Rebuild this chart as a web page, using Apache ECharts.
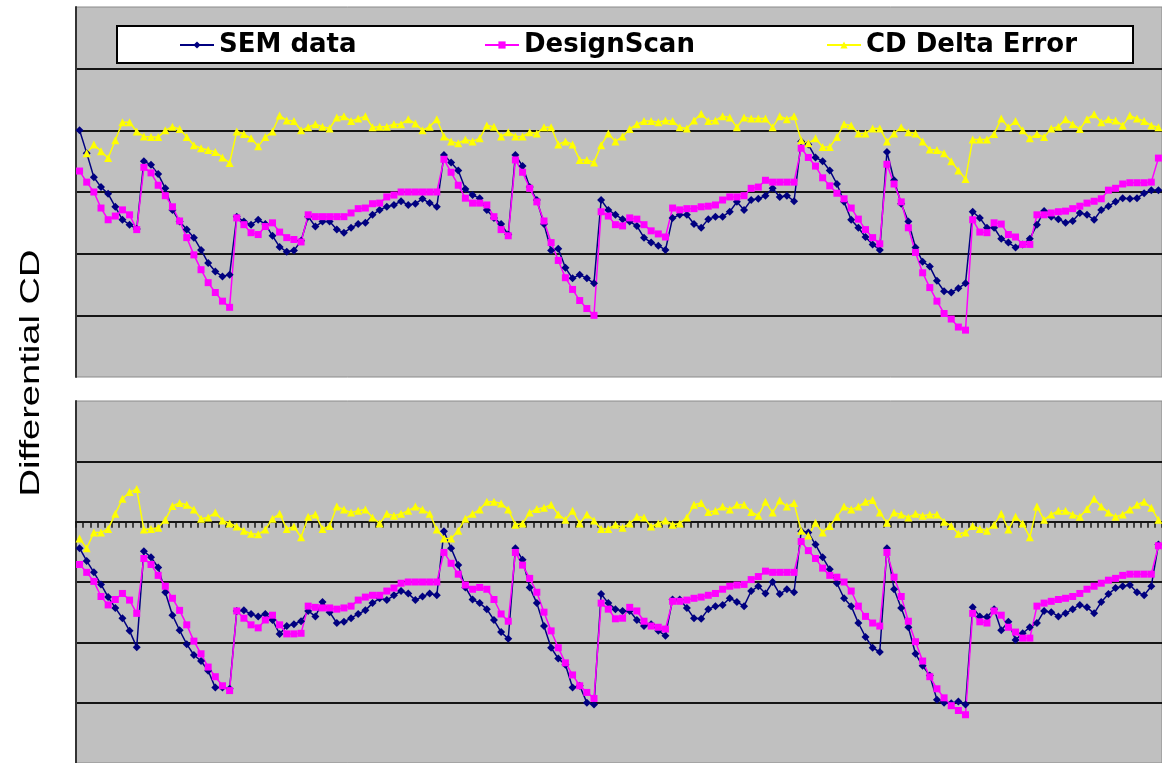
<!DOCTYPE html>
<html>
<head>
<meta charset="utf-8">
<script src="https://cdn.jsdelivr.net/npm/echarts@6/dist/echarts.min.js"></script>
<style>
  html, body { margin: 0; padding: 0; background: #fff; }
  #chart { width: 1162px; height: 763px; }
</style>
</head>
<body>
<div id="chart"></div>
<script>
const seriesNames = ["SEM data", "DesignScan", "CD Delta Error"];

// upper panel
const semTop = [0,-3.7,-7.6,-9.2,-10.3,-12.4,-14.5,-15.3,-16,-5,-5.6,-7.1,-9.4,-12.9,-14.8,-16.1,-17.4,-19.4,-21.5,-22.9,
  -23.7,-23.4,-14,-14.8,-15.3,-14.5,-15.2,-17.1,-18.9,-19.7,-19.5,-17.9,-14,-15.6,-14.8,-14.8,-16.1,-16.6,-15.8,-15.2,
  -15,-13.7,-12.9,-12.4,-12.1,-11.5,-12.1,-11.9,-11.1,-11.8,-12.4,-4,-5.2,-6.5,-9.5,-10.5,-11,-12.9,-14.2,-15.2,
  -16.9,-4,-5.8,-9.2,-11.3,-15.2,-19.5,-19.2,-22.3,-24,-23.4,-24,-24.8,-11.3,-12.9,-13.7,-14.4,-14.8,-15.5,-17.4,
  -18.2,-18.7,-19.4,-14.2,-13.7,-13.7,-15.2,-15.8,-14.4,-14,-14,-13.2,-11.6,-12.9,-11.3,-11.1,-10.6,-9.4,-10.8,-10.6,
  -11.5,-1.8,-2.3,-4.4,-5,-6.5,-8.7,-11.6,-14.5,-15.8,-17.3,-18.5,-19.4,-3.5,-8.1,-11.9,-14.8,-19,-21.3,-22.1,
  -24.4,-26.1,-26.3,-25.6,-24.8,-13.2,-14.2,-15.8,-15.8,-17.6,-18.2,-19,-18.5,-17.6,-15.3,-13.1,-14,-14.4,-15,-14.7,
  -13.4,-13.7,-14.5,-12.9,-12.3,-11.6,-11,-11.1,-11,-10.2,-9.7,-9.7];

const designTop = [-6.6,-8.4,-10,-12.6,-14.5,-13.9,-12.9,-13.7,-16.1,-6,-6.9,-8.9,-10.6,-12.4,-14.7,-17.4,-20.2,-22.6,-24.7,-26.3,
  -27.7,-28.7,-14.2,-15.3,-16.6,-16.9,-15.6,-15,-16.5,-17.4,-17.7,-18.1,-13.7,-14,-14,-14,-14,-14,-13.4,-12.7,
  -12.6,-11.9,-11.8,-10.8,-10.5,-10,-10,-10,-10,-10,-10,-4.7,-6.8,-8.9,-11,-11.8,-11.8,-12.1,-14,-16.1,
  -17.1,-4.8,-6.8,-9.4,-11.6,-14.7,-18.2,-21.1,-23.9,-25.8,-27.6,-28.9,-30,-13.2,-13.9,-15.3,-15.5,-14.2,-14.4,-15.3,
  -16.3,-16.8,-17.3,-12.6,-12.9,-12.7,-12.7,-12.4,-12.3,-12.1,-11.3,-10.8,-10.8,-10.6,-9.4,-9.2,-8.1,-8.4,-8.4,-8.4,
  -8.4,-2.9,-4.4,-5.8,-7.7,-9,-10.2,-11.1,-12.6,-14.4,-16.1,-17.4,-18.4,-5.5,-8.7,-11.6,-15.8,-19.8,-23.1,-25.5,
  -27.7,-29.7,-30.6,-31.9,-32.4,-14.5,-16.5,-16.6,-15,-15.2,-16.9,-17.3,-18.5,-18.5,-13.7,-13.7,-13.4,-13.2,-13.1,-12.7,
  -12.3,-11.8,-11.5,-11.1,-9.7,-9.4,-8.7,-8.5,-8.5,-8.5,-8.4,-4.5];

const deltaTop = [null,-3.7,-2.3,-3.4,-4.5,-1.6,1.3,1.3,-0.2,-1,-1.1,-1.1,0,0.6,0.2,-1.1,-2.4,-2.9,-3.2,-3.5,
  -4.4,-5.3,-0.2,-0.6,-1.3,-2.6,-1.1,-0.2,2.4,1.6,1.5,0,0.5,1,0.6,0.3,2.1,2.3,1.5,1.9,
  2.3,0.5,0.6,0.6,1,1,1.8,1.1,0,0.6,1.8,-1,-1.8,-2.1,-1.5,-1.8,-1.3,0.8,0.6,-1,
  -0.3,-1,-1,-0.3,-0.5,0.5,0.5,-2.3,-1.8,-2.3,-4.8,-4.8,-5.2,-2.4,-0.5,-1.8,-1,0.2,1,1.5,
  1.5,1.3,1.6,1.5,0.5,0.3,1.6,2.7,1.5,1.6,2.3,2.1,0.5,2.1,1.9,1.9,1.9,0.5,2.3,1.8,
  2.3,-1.6,-2.1,-1.3,-2.7,-2.7,-1.1,1,0.8,-0.5,-0.5,0.3,0.3,-1.8,-0.5,0.5,-0.3,-0.5,-1.8,-3.1,
  -3.2,-3.7,-5,-6.5,-7.9,-1.5,-1.5,-1.5,-0.6,1.9,0.5,1.5,0,-1.3,-0.6,-1.1,0.3,0.6,1.8,1,
  0.2,1.8,2.6,1.3,1.8,1.6,0.8,2.4,1.9,1.5,0.8,0.5];

// lower panel
const semBottom = [-4.4,-6.5,-8.4,-10.4,-12.5,-14.3,-16,-18.1,-20.8,-4.9,-5.9,-7.6,-11.7,-15.5,-18,-20.3,-22.1,-23.1,-24.7,-27.5,
  -27.5,-27.7,-14.8,-14.7,-15.3,-15.7,-15.3,-16.3,-18.6,-17.3,-17,-16.5,-14.8,-15.7,-13.3,-15,-16.8,-16.6,-16,-15.3,
  -14.7,-13.5,-12.7,-13,-12.2,-11.5,-11.9,-13,-12.4,-11.9,-12.2,-1.6,-4.4,-7.2,-10.9,-12.9,-13.5,-14.5,-16.3,-18.3,
  -19.4,-4.4,-6.3,-10.9,-13.5,-17.3,-20.9,-22.7,-23.7,-27.5,-27.2,-30,-30.3,-12,-13.5,-14.5,-14.8,-14.8,-16.3,-17.3,
  -17,-18.1,-18.9,-12.9,-12.9,-14.3,-16,-16.1,-14.5,-14,-13.8,-12.7,-13.3,-14,-11.5,-10.7,-11.9,-10,-12,-11.2,
  -11.7,-1.6,-1.8,-3.8,-5.9,-7.9,-10.2,-12.7,-14,-16.8,-19.1,-20.9,-21.6,-4.4,-11.2,-14.3,-17.5,-21.9,-23.9,-25.5,
  -29.5,-30,-30.1,-29.8,-30.3,-14.2,-15.7,-15.8,-14.5,-18,-16.6,-19.6,-18.5,-17.5,-16.8,-14.8,-15,-15.7,-15.2,-14.5,
  -13.8,-14.2,-15.2,-13.3,-12,-11,-10.7,-10.5,-11.7,-12.2,-10.7,-3.8];

const designBottom = [-7.1,-8.4,-9.9,-12.4,-13.8,-12.9,-11.9,-13,-15.2,-6.1,-7.1,-8.9,-10.7,-12.7,-14.7,-17.1,-19.8,-21.9,-24.1,-25.7,
  -27.2,-28,-14.8,-16,-17.1,-17.6,-16.3,-15.5,-17.1,-18.6,-18.6,-18.5,-14,-14.2,-14.3,-14.3,-14.5,-14.3,-14,-13,
  -12.5,-12.2,-12.2,-11.5,-11,-10.2,-10,-10,-10,-10,-10,-5.1,-6.9,-8.7,-10.5,-11.2,-10.9,-11.2,-12.9,-15.3,
  -16.5,-5.1,-7.2,-9.4,-11.7,-15,-18.1,-20.9,-23.4,-25.4,-27.2,-28.3,-29.3,-13.5,-14.5,-16.1,-16,-14.2,-14.8,-16.5,
  -17.3,-17.5,-17.8,-13.2,-13.2,-13,-12.7,-12.5,-12.2,-11.9,-11.2,-10.7,-10.5,-10.4,-9.6,-9.1,-8.2,-8.4,-8.4,-8.4,
  -8.4,-3.3,-4.8,-6.1,-7.7,-8.9,-9.2,-10,-11.5,-14,-15.7,-16.8,-17.3,-5.1,-9.2,-12.4,-16.5,-19.9,-23.1,-25.7,
  -27.7,-29.2,-30.5,-31.3,-32,-15.2,-16.6,-16.8,-14.8,-15.5,-17.5,-18.3,-19.3,-19.3,-14,-13.5,-13.2,-12.9,-12.7,-12.4,
  -11.9,-11.2,-10.7,-10.2,-9.7,-9.4,-8.9,-8.7,-8.7,-8.7,-8.7,-4];

const deltaBottom = [-2.8,-4.4,-1.8,-1.8,-1.2,1.3,3.8,4.9,5.4,-1.3,-1.2,-1,0.3,2.6,3.1,2.8,2,0.5,0.7,1.5,
  0.2,-0.3,-0.8,-1.5,-2,-2.1,-1.3,0.5,1.3,-1.2,-0.8,-2.6,0.8,1.2,-1.2,-0.7,2.5,2,1.5,1.8,
  2,0.7,-0.3,1.3,1,1.3,1.8,2.5,2,1.3,-1.3,-2.8,-2.8,-1.5,0.5,1.3,2,3.3,3.3,3,
  2,-0.5,-0.3,1.5,2.1,2.3,2.8,1.2,0.3,1.8,-0.3,1.2,0.2,-1.2,-1.2,-0.5,-1,-0.3,0.8,0.7,
  -0.8,-0.3,0.2,-0.5,-0.3,0.7,2.8,3.1,1.6,1.8,2.5,2,2.8,2.8,1.6,1,3.3,1.5,3.5,2.5,
  3.1,-1.5,-2.3,-0.2,-1.8,-0.7,0.8,2.5,2,2.5,3.3,3.6,1.5,-0.2,1.5,1.2,0.7,1.3,1,1.2,
  1.2,0,-0.7,-2,-1.8,-0.7,-1.2,-1.5,-0.5,1.3,-1.3,0.8,-0.3,-2.6,2.5,0.3,1.2,1.8,1.8,1.2,
  0.8,2.1,3.8,2.5,1.5,0.8,1.2,2,2.8,3.3,2.3,0.3];

const categories = semTop.map((v, i) => String(i + 1));

const myChart = echarts.init(document.getElementById("chart"), null, { renderer: "canvas" });

const gridLine = { color: "#151515", width: 2 };

const makeGrid = (top, height) => ({
  left: 76,
  right: 0,
  top,
  height,
  show: true,
  backgroundColor: "#c0c0c0",
  borderColor: "#8a8a8a",
  borderWidth: 1,
});

const makeYAxis = (gridIndex) => ({
  gridIndex,
  type: "value",
  min: -40,
  max: 20,
  interval: 10,
  axisLabel: { show: false },
  axisTick: { show: false },
  axisLine: { show: true, onZero: false, lineStyle: { color: "#333", width: 2 } },
  splitLine: { show: true, showMinLine: false, showMaxLine: false, lineStyle: gridLine },
});

const styles = [
  { color: "#000080", symbol: "diamond", symbolSize: 8 },
  { color: "#ff00ff", symbol: "rect", symbolSize: 7 },
  { color: "#ffff00", symbol: "triangle", symbolSize: 8 },
];

const makeSeries = (name, data, k, axisIndex) => ({
  name,
  type: "line",
  xAxisIndex: axisIndex,
  yAxisIndex: axisIndex,
  data,
  symbol: styles[k].symbol,
  symbolSize: styles[k].symbolSize,
  showSymbol: true,
  showAllSymbol: true,
  connectNulls: false,
  lineStyle: { color: styles[k].color, width: 1.5 },
  itemStyle: { color: styles[k].color },
  emphasis: { disabled: true },
});

const legendText = { fontFamily: "DejaVu Sans", fontWeight: "bold", fontSize: 26, color: "#000" };
const makeLegend = (name, left) => ({
  data: [name],
  left,
  top: 32,
  padding: 0,
  itemWidth: 34,
  itemHeight: 9,
  selectedMode: false,
  textStyle: legendText,
});

const option = {
  animation: false,
  backgroundColor: "#fff",
  grid: [makeGrid(7, 370), makeGrid(401, 364)],
  xAxis: [
    {
      gridIndex: 0,
      type: "category",
      data: categories,
      boundaryGap: true,
      axisLine: { show: false },
      axisTick: { show: false },
      axisLabel: { show: false },
    },
    {
      gridIndex: 1,
      type: "category",
      data: categories,
      boundaryGap: true,
      axisLine: { show: true, onZero: true, lineStyle: { color: "#151515", width: 2 } },
      axisTick: { show: true, interval: 0, length: 6, lineStyle: { color: "#151515", width: 1.5 } },
      axisLabel: { show: false },
    },
  ],
  yAxis: [makeYAxis(0), makeYAxis(1)],
  legend: [
    makeLegend(seriesNames[0], 179),
    makeLegend(seriesNames[1], 484),
    makeLegend(seriesNames[2], 826),
  ],
  graphic: [
    {
      type: "rect",
      z: 3,
      shape: { x: 117, y: 26, width: 1016, height: 37 },
      style: { fill: "#fff", stroke: "#000", lineWidth: 2 },
    },
    {
      type: "text",
      x: 31,
      y: 373,
      rotation: Math.PI / 2,
      scaleX: 1.36,
      style: {
        text: "Differential CD",
        font: '28px "Liberation Sans"',
        fill: "#000",
        textAlign: "center",
        textVerticalAlign: "middle",
        align: "center",
        verticalAlign: "middle",
      },
    },
  ],
  series: [
    makeSeries(seriesNames[0], semTop, 0, 0),
    makeSeries(seriesNames[1], designTop, 1, 0),
    makeSeries(seriesNames[2], deltaTop, 2, 0),
    makeSeries(seriesNames[0], semBottom, 0, 1),
    makeSeries(seriesNames[1], designBottom, 1, 1),
    makeSeries(seriesNames[2], deltaBottom, 2, 1),
  ],
};

myChart.setOption(option);
</script>
</body>
</html>
